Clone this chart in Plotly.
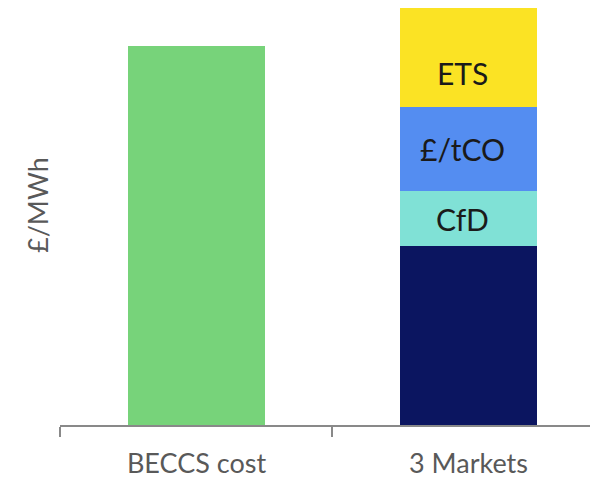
import plotly.graph_objects as go

# Categories and values (£/MWh)
categories = ["BECCS cost", "3 Markets"]
beccs_cost = [189.5, None]
base = [None, 89.5]
cfd = [None, 27.5]
tco = [None, 42.0]
ets = [None, 49.5]
segment_labels = ["CfD", "£/tCO", "ETS"]

GREEN = "#77D37A"
NAVY = "#0B1560"
TEAL = "#80E1D6"
BLUE = "#548DF1"
YELLOW = "#FBE324"
TEXT_GREY = "#595959"
AXIS_GREY = "#898989"
FONT = "Lato"

fig = go.Figure()
for vals, col in [(beccs_cost, GREEN), (base, NAVY), (cfd, TEAL), (tco, BLUE), (ets, YELLOW)]:
    fig.add_trace(go.Bar(x=categories, y=vals, marker=dict(color=col, line=dict(width=0)),
                         width=0.505, showlegend=False, hoverinfo="skip"))

# Segment labels on the stacked bar
label_y = [base[1] + cfd[1] / 2,
           base[1] + cfd[1] + tco[1] / 2,
           176.0]
for txt, yv in zip(segment_labels, label_y):
    fig.add_annotation(x=categories[1], y=yv, text=txt, showarrow=False, xshift=-6,
                       font=dict(family=FONT, size=30, color="#1a1a1a"))

# Y-axis title
fig.add_annotation(xref="paper", yref="paper", x=-22 / 530, y=(425 - 205) / 425,
                   text="£/MWh", textangle=-90, showarrow=False,
                   xanchor="center", yanchor="middle",
                   font=dict(family=FONT, size=27, color=TEXT_GREY))

fig.update_layout(
    width=590, height=482,
    margin=dict(l=60, r=0, t=0, b=57),
    barmode="stack",
    plot_bgcolor="white", paper_bgcolor="white",
    xaxis=dict(range=[-0.5018, 1.4467], tickson="boundaries", ticks="outside",
               ticklen=10, tickwidth=1.5, tickcolor=AXIS_GREY,
               showline=True, linecolor=AXIS_GREY, linewidth=1.5,
               showgrid=False, zeroline=False, ticklabelstandoff=14,
               tickfont=dict(family=FONT, size=27, color=TEXT_GREY)),
    yaxis=dict(range=[0, 212.5], showticklabels=False, showgrid=False,
               zeroline=False, showline=False, ticks=""),
)

fig.write_html("out.html")
